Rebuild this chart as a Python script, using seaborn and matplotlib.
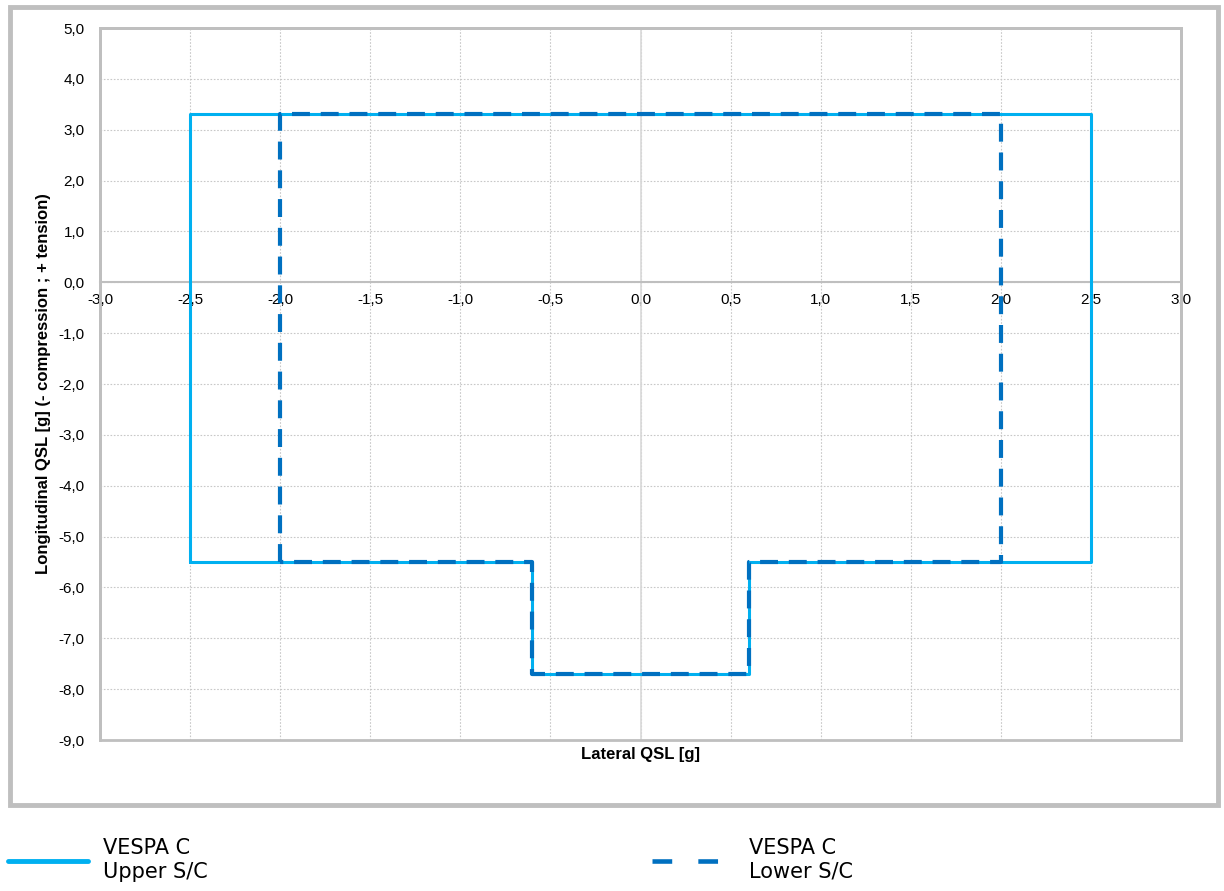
import matplotlib
matplotlib.use("Agg")
import matplotlib.pyplot as plt
import seaborn as sns
from matplotlib.patches import Rectangle
from matplotlib.ticker import FuncFormatter, MultipleLocator
from matplotlib.lines import Line2D

# Data: envelope corners (closed polygons)
upper_x = [-2.5, -2.5, 2.5, 2.5, 0.6, 0.6, -0.6, -0.6, -2.5]
upper_y = [-5.5, 3.3, 3.3, -5.5, -5.5, -7.7, -7.7, -5.5, -5.5]
lower_x = [-2.0, -2.0, 2.0, 2.0, 0.6, 0.6, -0.6, -0.6, -2.0]
lower_y = [-5.5, 3.3, 3.3, -5.5, -5.5, -7.7, -7.7, -5.5, -5.5]
labels = ["VESPA C\nUpper S/C", "VESPA C\nLower S/C"]
colors = ["#00B0F0", "#0070C0"]

sns.set_theme(style="white")
plt.rcParams['font.family'] = ['Liberation Sans', 'DejaVu Sans']

W, H = 1224, 891
fig = plt.figure(figsize=(W / 100, H / 100), dpi=100)
ax = fig.add_axes([100 / W, 1 - 740 / H, 1081 / W, 712 / H])

sns.lineplot(x=upper_x, y=upper_y, sort=False, estimator=None, ax=ax,
             color=colors[0], lw=2.2, zorder=3)
sns.lineplot(x=lower_x, y=lower_y, sort=False, estimator=None, ax=ax,
             color=colors[1], lw=3.0, linestyle=(0, (4.3, 2.6)), zorder=4)

ax.set_xlim(-3, 3)
ax.set_ylim(-9, 5)
ax.xaxis.set_major_locator(MultipleLocator(0.5))
ax.yaxis.set_major_locator(MultipleLocator(1.0))
fmt = FuncFormatter(lambda v, p: f"{v:.1f}".replace(".", ",").replace("-0,0", "0,0"))
ax.xaxis.set_major_formatter(fmt)
ax.yaxis.set_major_formatter(fmt)

ax.grid(True, which="major", color="#C8C8C8", linestyle=(0, (1.5, 1.5)), lw=0.8, zorder=0)
ax.axvline(0, color="#D9D9D9", lw=1.2, zorder=1)

for s in ["top", "right", "left"]:
    ax.spines[s].set_color("#BFBFBF")
    ax.spines[s].set_linewidth(2)
ax.spines["bottom"].set_position(("data", 0))
ax.spines["bottom"].set_color("#BFBFBF")
ax.spines["bottom"].set_linewidth(1.5)
ax.add_patch(Rectangle((0, 0), 1, 1, transform=ax.transAxes, fill=False,
                       ec="#BFBFBF", lw=2, clip_on=False, zorder=5))

ax.tick_params(axis="x", length=0, pad=8, labelsize=11, colors="black")
ax.tick_params(axis="y", length=0, pad=11, labelsize=11, colors="black")

ax.set_xlabel("Lateral QSL [g]", fontsize=12, fontweight="bold", color="black")
ax.xaxis.set_label_coords(0.5, -0.01)
ax.xaxis.label.set_va("top")
ax.set_ylabel("Longitudinal QSL [g] (- compression ; + tension)", fontsize=12,
              fontweight="bold", color="black")
ax.yaxis.set_label_coords(-0.045, 0.5)

# Outer chart frame
fig.patches.append(Rectangle((10 / W, 1 - 805 / H), 1208 / W, 798 / H,
                             transform=fig.transFigure, fill=False,
                             ec="#BFBFBF", lw=3.5))

h1 = Line2D([], [], color=colors[0], lw=3.5)
h2 = Line2D([], [], color=colors[1], lw=3.3, linestyle=(0, (4.3, 5.7)),
            dash_capstyle="butt")
leg_kw = dict(frameon=False, prop={"family": "DejaVu Sans", "size": 15},
              borderpad=0, borderaxespad=0, labelcolor="black")
fig.legend([h1], [labels[0]], loc="center left", handlelength=3.85,
           handletextpad=0.7, bbox_to_anchor=(8 / W, 1 - 860 / H), **leg_kw)
fig.legend([h2], [labels[1]], loc="center left", handlelength=3.2,
           handletextpad=1.45, bbox_to_anchor=(652 / W, 1 - 860 / H), **leg_kw)

fig.savefig("out.png", dpi=100)
